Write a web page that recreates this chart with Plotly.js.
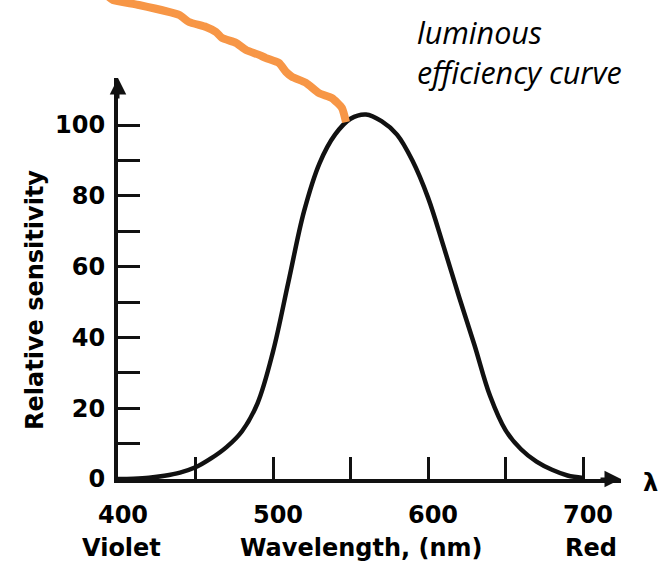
<!DOCTYPE html>
<html>
<head>
<meta charset="utf-8">
<script src="https://cdn.plot.ly/plotly-3.0.1.min.js"></script>
<style>html,body{margin:0;padding:0;background:#fff;}#chart{width:666px;height:572px;}</style>
</head>
<body>
<div id="chart"></div>
<script>
// Luminous efficiency curve (relative sensitivity vs wavelength)
const wavelength = [400, 410, 420, 430, 440, 450, 460, 470, 480, 490, 500, 510, 520, 530, 540, 550, 560, 570, 580, 590, 600, 610, 620, 630, 640, 650, 660, 670, 680, 690, 700];
const sensitivity = [0, 0.1, 0.35, 0.9, 1.8, 3.3, 5.8, 9, 13.5, 21.4, 36, 55.8, 75.6, 89.2, 97.3, 101.8, 103, 101.1, 97.3, 89.9, 79.5, 65.8, 51.5, 37.8, 23.5, 13.8, 8.4, 4.9, 2.6, 1, 0.3];

// Hand-drawn orange pointer, in the same (wavelength, sensitivity) units
const pointerWavelength = [394.0, 396.8, 413.5, 439.4, 445.8, 456.8, 463.2, 467.1, 476.1, 482.6, 491, 495.5, 503.9, 508.4, 512.3, 521.3, 529.7, 538.1, 544.5, 547.1];
const pointerSensitivity = [136.2, 135.3, 133.9, 131.1, 129.1, 127.7, 126.3, 124.6, 123.2, 121.2, 119.8, 118.9, 117.5, 115, 113.6, 111.9, 109, 107.6, 104.8, 100.8];

// Ticks
const xTickVals = [400, 450, 500, 550, 600, 650, 700];
const xTickText = ['400', '', '500', '', '600', '', '700'];
const yTickVals = [0, 10, 20, 30, 40, 50, 60, 70, 80, 90, 100];
const yTickText = ['0', '', '20', '', '40', '', '60', '', '80', '', '100'];

const W = 666, H = 572;
const boldFont = {family: 'DejaVu Sans', size: 24, color: '#000', weight: 'bold'};
const noteFont = {family: 'Open Sans', size: 30.5, color: '#000', style: 'italic'};

const traces = [
  {
    x: wavelength, y: sensitivity, type: 'scatter', mode: 'lines',
    line: {color: '#111', width: 4.5, shape: 'spline', smoothing: 1},
    xaxis: 'x', yaxis: 'y', hoverinfo: 'skip', name: 'Relative sensitivity'
  },
  {
    x: pointerWavelength, y: pointerSensitivity, type: 'scatter', mode: 'lines',
    line: {color: '#F79646', width: 8, shape: 'spline', smoothing: 0.5},
    xaxis: 'x2', yaxis: 'y2', hoverinfo: 'skip', name: 'pointer'
  }
];

const layout = {
  width: W, height: H,
  margin: {l: 0, r: 0, t: 0, b: 0},
  paper_bgcolor: '#fff', plot_bgcolor: 'rgba(0,0,0,0)',
  showlegend: false,
  xaxis: {
    domain: [118 / W, 621 / W], range: [400, 724.5], anchor: 'y',
    showline: true, linewidth: 4, linecolor: '#111',
    ticks: 'inside', ticklen: 22, tickwidth: 3, tickcolor: '#111',
    tickmode: 'array', tickvals: xTickVals, ticktext: xTickText,
    tickfont: boldFont, ticklabelstandoff: 11, ticklabelshift: 5,
    showgrid: false, zeroline: false, fixedrange: true
  },
  yaxis: {
    domain: [93 / H, 494 / H], range: [0, 113.3], anchor: 'x',
    showline: true, linewidth: 4, linecolor: '#111',
    ticks: 'inside', ticklen: 22, tickwidth: 3, tickcolor: '#111',
    tickmode: 'array', tickvals: yTickVals, ticktext: yTickText,
    tickfont: boldFont, ticklabelstandoff: 4,
    showgrid: false, zeroline: false, fixedrange: true
  },
  xaxis2: {domain: [0, 1], range: [323.87, 753.55], anchor: 'y2', visible: false, fixedrange: true},
  yaxis2: {domain: [0, 1], range: [-26.27, 135.31], anchor: 'x2', visible: false, fixedrange: true},
  annotations: [
    {x: 724.5, y: 0, xref: 'x', yref: 'y', text: '', showarrow: true, ax: -22, ay: 0,
     arrowhead: 2, arrowsize: 1.1, arrowwidth: 3, arrowcolor: '#111', standoff: 0},
    {x: 400, y: 113.3, xref: 'x', yref: 'y', text: '', showarrow: true, ax: 0, ay: 22,
     arrowhead: 2, arrowsize: 1.1, arrowwidth: 3, arrowcolor: '#111', standoff: 0},
    {x: 650 / W, y: 1 - 483 / H, xref: 'paper', yref: 'paper', text: 'λ', showarrow: false,
     xanchor: 'center', yanchor: 'middle', font: boldFont},
    {x: 121 / W, y: 1 - 548 / H, xref: 'paper', yref: 'paper', text: 'Violet', showarrow: false,
     xanchor: 'center', yanchor: 'middle', font: boldFont},
    {x: 361 / W, y: 1 - 548 / H, xref: 'paper', yref: 'paper', text: 'Wavelength, (nm)', showarrow: false,
     xanchor: 'center', yanchor: 'middle', font: boldFont},
    {x: 591 / W, y: 1 - 548 / H, xref: 'paper', yref: 'paper', text: 'Red', showarrow: false,
     xanchor: 'center', yanchor: 'middle', font: boldFont},
    {x: 35 / W, y: 1 - 300 / H, xref: 'paper', yref: 'paper', text: 'Relative sensitivity', showarrow: false,
     textangle: -90, xanchor: 'center', yanchor: 'middle', font: boldFont},
    {x: 415 / W, y: 1 - 52 / H, xref: 'paper', yref: 'paper', text: 'luminous<br>efficiency curve', showarrow: false,
     xanchor: 'left', yanchor: 'middle', align: 'left', font: noteFont}
  ]
};

Plotly.newPlot('chart', traces, layout, {staticPlot: true, displayModeBar: false});
</script>
</body>
</html>
